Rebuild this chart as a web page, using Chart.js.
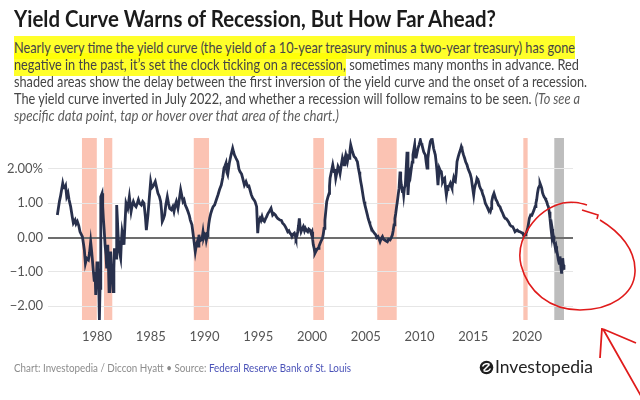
<!DOCTYPE html>
<html><head><meta charset="utf-8">
<script src="https://cdn.jsdelivr.net/npm/chart.js@4.4.0/dist/chart.umd.min.js"></script>
<style>
html,body{margin:0;padding:0;background:#fff;}
body{width:640px;height:400px;position:relative;overflow:hidden;font-family:Lato,"Open Sans",sans-serif;}
#c{position:absolute;left:0;top:0;}
.t{position:absolute;left:14px;white-space:nowrap;transform-origin:0 50%;}
.title{font-weight:700;font-size:22px;color:#1b1b1b;top:6px;line-height:26px;}
.p{font-size:15px;line-height:17px;color:#454545;mix-blend-mode:multiply;}
.hl{background:#ffff2a;padding:2px 0 3px 0;}
.it{font-style:italic;color:#5c5c5c;}
.foot{font-size:12px;color:#8c8c8c;top:360px;line-height:16px;}
.foot .src{color:#4a52b8;}
#logo{position:absolute;left:479px;top:356px;height:22px;white-space:nowrap;}
#logo span{font-size:17.5px;color:#222;line-height:22px;vertical-align:top;margin-left:1px;}
#ink{position:absolute;left:0;top:0;pointer-events:none;}
</style>
</head><body>
<canvas id="c" width="640" height="400"></canvas>
<div class="t title" data-w="482">Yield Curve Warns of Recession, But How Far Ahead?</div>
<div class="t p" style="top:39px" data-w="561"><span class="hl">Nearly every time the yield curve (the yield of a 10-year treasury minus a two-year treasury) has gone</span></div>
<div class="t p" style="top:56px" data-w="565"><span class="hl">negative in the past, it’s set the clock ticking on a recession,</span> sometimes many months in advance. Red</div>
<div class="t p" style="top:73px" data-w="573">shaded areas show the delay between the first inversion of the yield curve and the onset of a recession.</div>
<div class="t p" style="top:90px" data-w="566">The yield curve inverted in July 2022, and whether a recession will follow remains to be seen. <span class="it">(To see a</span></div>
<div class="t p it" style="top:107px" data-w="325">specific data point, tap or hover over that area of the chart.)</div>
<div class="t foot" data-w="337">Chart: Investopedia / Diccon Hyatt • Source: <span class="src">Federal Reserve Bank of St. Louis</span></div>
<div id="logo"><svg width="15" height="22" viewBox="0 0 15 22" style="vertical-align:top"><circle cx="7.5" cy="11.5" r="6.8" fill="#1e1e1e"/><path d="M3.5 10.5 C5 7.5 9 7 10.5 8.5 M4.5 14.5 L10.5 8.5 M4.5 14.5 C6.5 16 10 15.5 11.5 12.5" stroke="#fff" stroke-width="1.5" fill="none"/></svg><span>Investopedia</span></div>
<svg id="ink" width="640" height="400">
<path d="M600,220 C620,232 636,250 635,272 C634,295 610,310 580,310 C550,310 528,292 521,265 C515,240 535,210 563,203 C573,201 580,203 587,205" stroke="#e01b1b" stroke-width="1.6" fill="none"/>
<path d="M582,210 L598,215 L597,219" stroke="#e01b1b" stroke-width="1.6" fill="none"/>
<path d="M603,329 L641,396 M602,328 L600,358 M603,329 L636,343" stroke="#e01b1b" stroke-width="1.8" fill="none"/>
</svg>
<script>
// ---- data ----
const years = [1976.31,1976.5,1976.6,1976.81,1976.9,1977.0,1977.08,1977.18,1977.3,1977.4,1977.55,1977.7,1977.8,1977.96,1978.05,1978.17,1978.3,1978.42,1978.64,1978.75,1978.82,1978.92,1979.04,1979.2,1979.3,1979.41,1979.5,1979.57,1979.65,1979.75,1979.82,1979.88,1979.95,1980.0,1980.08,1980.13,1980.22,1980.28,1980.33,1980.37,1980.47,1980.53,1980.59,1980.67,1980.75,1980.83,1980.9,1980.95,1981.0,1981.07,1981.12,1981.2,1981.27,1981.32,1981.37,1981.45,1981.52,1981.57,1981.62,1981.7,1981.77,1981.83,1981.9,1981.96,1982.08,1982.2,1982.27,1982.33,1982.42,1982.51,1982.6,1982.7,1982.86,1983.01,1983.17,1983.28,1983.38,1983.5,1983.63,1983.75,1983.85,
1983.95,1984.12,1984.25,1984.37,1984.5,1984.59,1984.74,1984.85,1984.99,1985.1,1985.2,1985.3,1985.42,1985.55,1985.67,1985.8,1985.92,1986.0,1986.07,1986.18,1986.29,1986.4,1986.54,1986.65,1986.76,1986.91,1987.05,1987.16,1987.28,1987.38,1987.53,1987.65,1987.78,1987.9,1988.0,1988.1,1988.21,1988.35,1988.46,1988.58,1988.68,1988.83,1988.99,1989.06,1989.14,1989.25,1989.33,1989.4,1989.48,1989.58,1989.7,1989.78,1989.86,1989.93,1990.01,1990.1,1990.17,1990.25,1990.32,1990.4,1990.48,1990.58,1990.69,1990.8,1990.94,1991.1,1991.25,1991.4,1991.56,1991.7,1991.81,1991.92,1992.0,
1992.08,1992.16,1992.31,1992.47,1992.62,1992.7,1992.78,1992.93,1993.09,1993.2,1993.3,1993.45,1993.55,1993.71,1993.86,1994.02,1994.13,1994.23,1994.35,1994.48,1994.6,1994.7,1994.85,1994.95,1995.04,1995.16,1995.25,1995.35,1995.45,1995.57,1995.68,1995.78,1995.9,1996.03,1996.19,1996.34,1996.45,1996.59,1996.7,1996.81,1997.02,1997.15,1997.27,1997.4,1997.52,1997.63,1997.74,1997.85,1997.95,1998.05,1998.14,1998.25,1998.36,1998.45,1998.51,1998.6,1998.67,1998.75,1998.82,1998.9,1998.98,1999.08,1999.19,1999.3,1999.38,1999.5,1999.6,1999.7,1999.81,1999.92,2000.0,
2000.06,2000.12,2000.19,2000.27,2000.35,2000.45,2000.56,2000.65,2000.75,2000.85,2000.97,2001.05,2001.12,2001.2,2001.28,2001.37,2001.49,2001.59,2001.63,2001.68,2001.8,2001.93,2002.05,2002.12,2002.21,2002.32,2002.42,2002.52,2002.61,2002.72,2002.83,2002.98,2003.06,2003.14,2003.22,2003.29,2003.37,2003.45,2003.52,2003.6,2003.68,2003.76,2003.91,2004.07,2004.15,2004.22,2004.3,2004.38,2004.45,2004.53,2004.61,2004.69,2004.76,2004.84,2004.92,2005.0,2005.08,2005.15,2005.23,2005.31,2005.38,2005.46,2005.6,2005.71,2005.82,2005.93,2006.02,2006.14,2006.25,2006.33,2006.45,2006.55,2006.65,2006.76,2006.9,2007.01,2007.12,2007.26,2007.38,2007.48,2007.55,2007.63,2007.71,2007.79,2007.87,2007.94,2008.02,2008.1,2008.19,2008.25,2008.31,2008.41,2008.46,
2008.53,2008.6,2008.68,2008.76,2008.84,2008.93,2009.0,2009.05,2009.15,2009.24,2009.32,2009.39,2009.47,2009.55,2009.6,2009.67,2009.76,2009.86,2009.96,2010.08,2010.15,2010.23,2010.31,2010.39,2010.46,2010.54,2010.62,2010.7,2010.78,2010.85,2010.93,2011.01,2011.1,2011.16,2011.24,2011.31,2011.39,2011.47,2011.55,2011.63,2011.72,2011.78,2011.84,2011.93,2012.03,2012.1,2012.15,2012.25,2012.34,2012.42,2012.5,2012.58,2012.65,2012.76,2012.87,2012.95,2013.02,2013.1,2013.18,2013.25,2013.33,2013.42,2013.49,2013.6,2013.7,2013.8,2013.89,2013.95,2014.01,2014.1,2014.2,2014.3,2014.42,2014.52,2014.63,2014.72,2014.82,2014.92,2015.04,2015.1,2015.19,2015.27,2015.35,2015.42,2015.5,2015.58,2015.66,2015.73,2015.81,2015.89,2015.97,2016.05,2016.12,2016.2,2016.28,2016.35,2016.43,2016.51,2016.59,
2016.66,2016.72,2016.82,2016.93,2017.02,2017.12,2017.22,2017.34,2017.42,2017.49,2017.6,2017.74,2017.85,2017.96,2018.07,2018.17,2018.3,2018.42,2018.55,2018.67,2018.78,2018.89,2019.0,2019.1,2019.22,2019.35,2019.47,2019.6,2019.7,2019.82,2019.9,2019.97,2020.05,2020.12,2020.22,2020.34,2020.45,2020.53,2020.65,2020.75,2020.83,2020.9,2020.98,2021.06,2021.15,2021.21,2021.3,2021.37,2021.45,2021.52,2021.6,2021.68,2021.75,2021.83,2021.92,2021.99,2022.07,2022.14,2022.22,2022.3,2022.35,2022.39,2022.45,2022.51,2022.58,2022.64,2022.7,2022.76,2022.84,2022.92,2023.0,2023.07,2023.12,2023.16,2023.22,2023.27,2023.32,2023.38,2023.44];
const spread = [0.66,1.05,1.2,1.58,1.45,1.44,1.5,1.2,1.3,1.1,0.9,0.6,0.42,0.51,0.4,0.47,0.35,0.17,0.03,-0.2,-0.36,-0.75,-0.6,-0.65,-0.45,-0.12,-0.4,-0.65,-0.95,-1.28,-1.0,-1.67,-1.1,-0.7,-1.2,-0.9,-2.4,-1.48,-0.3,1.19,1.29,0.9,0.56,0.2,-0.21,-0.5,-0.9,-0.6,-0.21,-0.9,-1.57,-0.9,-0.41,-0.8,-1.09,-1.3,-1.57,-0.9,-0.31,-0.5,-0.6,0.95,0.5,0.08,-0.41,-0.6,-0.1,0.17,0.0,-0.21,0.4,1.0,0.85,1.19,0.76,0.95,1.05,0.95,0.9,1.0,1.1,
1.0,0.95,1.05,1.0,0.6,0.22,0.66,1.1,1.63,1.45,1.49,1.55,1.63,1.45,1.29,1.2,1.05,0.8,0.47,0.55,0.66,0.95,1.19,1.0,0.85,0.81,0.9,0.76,0.95,1.05,0.85,1.1,1.39,1.2,1.05,1.1,0.95,0.85,0.76,0.65,0.51,0.37,-0.02,-0.2,-0.41,-0.2,-0.12,-0.25,0.08,-0.1,-0.07,0.0,0.17,0.0,0.08,0.1,-0.07,0.05,0.17,0.4,0.56,0.7,0.81,0.9,0.95,1.1,1.24,1.4,1.53,1.75,2.02,2.1,2.17,
1.9,1.83,2.17,2.41,2.6,2.5,2.41,2.31,2.21,2.0,1.92,1.85,1.73,1.53,1.63,1.49,1.5,1.39,1.25,1.15,1.1,1.05,0.9,0.13,0.47,0.56,0.5,0.61,0.5,0.47,0.55,0.61,0.7,0.76,0.85,0.66,0.7,0.66,0.6,0.56,0.51,0.5,0.42,0.38,0.32,0.25,0.17,0.2,0.13,0.1,0.03,0.1,0.13,0.05,-0.02,0.05,0.17,0.35,0.56,0.3,0.17,0.25,0.32,0.2,0.27,0.2,0.17,0.25,0.22,0.12,0.17,
-0.05,-0.21,-0.3,-0.46,-0.41,-0.35,-0.31,-0.25,-0.17,-0.1,-0.02,0.1,0.27,0.5,0.76,1.05,1.19,1.29,1.5,1.73,1.92,2.12,1.92,2.0,1.73,1.9,2.07,2.0,1.87,2.1,2.31,2.12,2.3,2.41,2.3,2.21,2.35,2.31,2.5,2.7,2.6,2.5,2.36,2.31,2.25,2.21,2.05,1.92,1.8,1.63,1.5,1.34,1.2,1.05,0.95,0.85,0.75,0.66,0.55,0.47,0.4,0.32,0.22,0.17,0.12,0.08,0.0,0.03,-0.05,-0.12,-0.02,0.03,-0.05,-0.07,-0.1,-0.12,-0.05,-0.07,0.0,0.08,0.2,0.37,0.55,0.71,0.9,1.05,1.25,1.44,1.92,1.7,1.53,1.34,1.45,
1.24,1.45,1.53,2.0,2.5,1.24,1.6,1.92,1.8,2.02,2.2,2.41,2.55,2.7,2.45,2.31,2.45,2.6,2.7,2.84,2.75,2.7,2.6,2.5,2.45,2.41,2.2,2.02,2.3,2.5,2.65,2.8,2.85,2.89,2.75,2.6,2.5,2.41,2.2,1.92,1.53,1.8,2.02,1.95,1.92,1.75,1.63,1.7,1.73,1.45,1.24,1.4,1.49,1.5,1.58,1.5,1.44,1.6,1.73,1.65,1.63,1.9,2.21,2.35,2.46,2.55,2.65,2.6,2.5,2.4,2.31,2.2,2.12,2.0,1.92,1.85,1.73,1.5,1.24,1.4,1.53,1.6,1.73,1.7,1.63,1.5,1.44,1.4,1.34,1.25,1.19,1.1,1.0,0.95,0.9,0.85,0.81,0.8,0.76,
0.85,1.05,1.2,1.29,1.2,1.1,1.05,0.95,0.92,0.9,0.8,0.71,0.62,0.56,0.55,0.51,0.45,0.37,0.33,0.32,0.25,0.17,0.2,0.22,0.18,0.17,0.15,0.13,0.05,0.08,0.12,0.17,0.25,0.37,0.56,0.66,0.65,0.71,0.8,0.9,1.0,1.1,1.3,1.44,1.5,1.58,1.5,1.44,1.3,1.24,1.18,1.15,1.1,1.05,0.95,0.9,0.75,0.56,0.3,0.08,0.25,0.17,0.05,-0.12,-0.2,-0.31,-0.25,-0.36,-0.5,-0.65,-0.75,-0.55,-0.7,-0.89,-1.05,-0.8,-0.6,-0.8,-0.94];
const bandStart = [1978.6, 1980.65, 1989.0, 2000.12, 2006.07, 2019.66];
const bandEnd   = [1979.98, 1981.42, 1990.42, 2001.12, 2007.88, 2020.06];
const currentStart = [2022.54];
const currentEnd = [2023.44];
const xTicks = [1980, 1985, 1990, 1995, 2000, 2005, 2010, 2015, 2020];
const yTicks = [-2, -1, 0, 1, 2];
const yTickLabels = ['\u22122.00', '\u22121.00', '0.00', '1.00', '2.00%'];

// ---- fit text lines to measured widths ----
document.querySelectorAll('.t').forEach(el => {
  const w = el.getBoundingClientRect().width;
  const target = +el.dataset.w;
  if (w > 0) el.style.transform = 'scaleX(' + (target / w) + ')';
});

const bandsPlugin = {
  id: 'bands',
  beforeDraw(chart) {
    const {ctx, chartArea, scales} = chart;
    const x = scales.x;
    ctx.save();
    const draw = (s, e, color) => {
      for (let i = 0; i < s.length; i++) {
        const a = x.getPixelForValue(s[i]);
        const b = x.getPixelForValue(e[i]);
        ctx.fillStyle = color;
        ctx.fillRect(a, chartArea.top, b - a, chartArea.bottom - chartArea.top);
      }
    };
    draw(bandStart, bandEnd, '#fbc3b3');
    draw(currentStart, currentEnd, '#bdbdbd');
    ctx.restore();
  }
};

const tickFont = {family: '"Liberation Sans Narrow", Lato, sans-serif', size: 13};

new Chart(document.getElementById('c'), {
  type: 'line',
  data: {
    datasets: [{
      data: years.map((y, i) => ({x: y, y: spread[i]})),
      borderColor: '#28304c',
      borderWidth: 2.8,
      pointRadius: 0,
      tension: 0,
      fill: false
    }]
  },
  options: {
    responsive: false,
    animation: false,
    devicePixelRatio: 1,
    layout: {padding: {left: 0, top: 138, right: 67, bottom: 50}},
    plugins: {legend: {display: false}, tooltip: {enabled: false}},
    scales: {
      x: {
        type: 'linear',
        min: 1975.44,
        max: 2024.28,
        grid: {display: false, drawTicks: false},
        border: {display: false},
        afterBuildTicks: s => { s.ticks = xTicks.map(v => ({value: v})); },
        afterFit: s => { s.height = 30; },
        ticks: {padding: 9, color: '#555', font: tickFont, maxRotation: 0, autoSkip: false, callback: v => String(v)}
      },
      y: {
        min: -2.4,
        max: 2.9,
        grid: {
          drawTicks: false,
          color: c => c.tick && c.tick.value === 0 ? '#6d6d6d' : '#e6e6e6',
          lineWidth: c => c.tick && c.tick.value === 0 ? 2 : 1
        },
        border: {display: false},
        afterBuildTicks: s => { s.ticks = yTicks.map(v => ({value: v})); },
        afterFit: s => { s.width = 48; },
        ticks: {padding: 5, color: '#555', font: tickFont, callback: (v, i) => yTickLabels[yTicks.indexOf(v)]}
      }
    }
  },
  plugins: [bandsPlugin]
});
</script>
</body></html>
